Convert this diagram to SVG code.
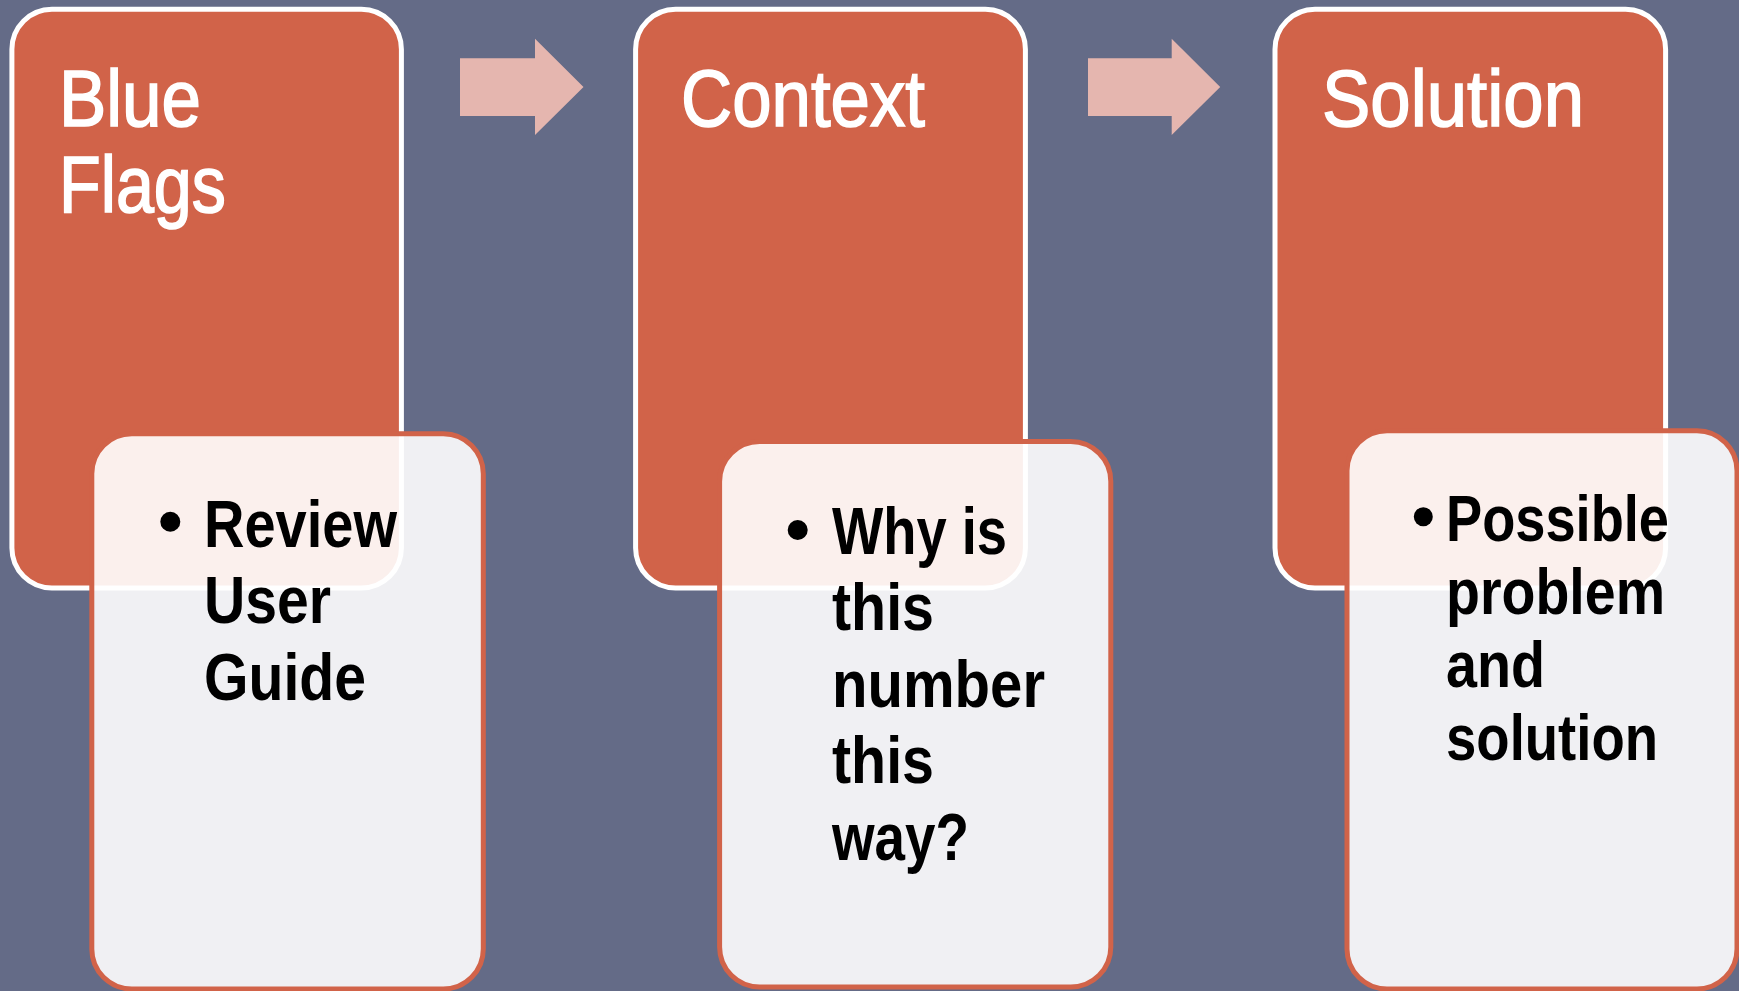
<svg xmlns="http://www.w3.org/2000/svg" width="1739" height="991" viewBox="0 0 1739 991">
  <style>
    .parent { fill: #D16349; stroke: #FFFFFF; stroke-width: 5; }
    .child { fill: #FFFFFF; fill-opacity: 0.9; stroke: #D16349; stroke-width: 5; }
    .arrow { fill: #E5B6AF; }
    .title { font-family: "Liberation Sans", Arial, sans-serif; font-size: 80px; fill: #FFFFFF; stroke: #FFFFFF; stroke-width: 1.6px; }
    .body { font-family: "Liberation Sans", Arial, sans-serif; font-size: 67px; font-weight: bold; fill: #000000; }
    .body2 { font-family: "Liberation Sans", Arial, sans-serif; font-size: 64px; font-weight: bold; fill: #000000; }
    .bullet { fill: #000000; }
  </style>
  <rect x="0" y="0" width="1739" height="991" fill="#646B87"/>

  <g id="connectors">
    <polygon class="arrow" points="460,58.2 535,58.2 535,38.7 583.5,86.9 535,135.1 535,116 460,116"/>
    <polygon class="arrow" points="1088,58.2 1171.7,58.2 1171.7,38.7 1220.2,86.9 1171.7,135.1 1171.7,116 1088,116"/>
  </g>

  <g id="node-blue-flags">
    <rect class="parent" x="11.9" y="9.2" width="389.5" height="578.8" rx="40" ry="40"/>
    <text class="title" x="59" y="125.5" textLength="142" lengthAdjust="spacingAndGlyphs">Blue</text>
    <text class="title" x="59" y="212.4" textLength="167" lengthAdjust="spacingAndGlyphs">Flags</text>
  </g>
  <g id="node-context">
    <rect class="parent" x="635.6" y="9.2" width="389.8" height="578.8" rx="40" ry="40"/>
    <text class="title" x="681" y="125.5" textLength="244" lengthAdjust="spacingAndGlyphs">Context</text>
  </g>
  <g id="node-solution">
    <rect class="parent" x="1275" y="9.2" width="390.6" height="578.8" rx="40" ry="40"/>
    <text class="title" x="1322" y="125.5" textLength="262" lengthAdjust="spacingAndGlyphs">Solution</text>
  </g>

  <g id="node-review">
    <rect class="child" x="91.8" y="433.8" width="391.5" height="555.2" rx="40" ry="40"/>
    <circle class="bullet" cx="170.3" cy="521.7" r="10"/>
    <text class="body" x="204" y="546.7" textLength="193" lengthAdjust="spacingAndGlyphs">Review</text>
    <text class="body" x="204" y="623.3" textLength="127" lengthAdjust="spacingAndGlyphs">User</text>
    <text class="body" x="204" y="700" textLength="162" lengthAdjust="spacingAndGlyphs">Guide</text>
  </g>
  <g id="node-why">
    <rect class="child" x="719.6" y="441.4" width="391.2" height="545.6" rx="40" ry="40"/>
    <circle class="bullet" cx="797.7" cy="530" r="10"/>
    <text class="body" x="832" y="554" textLength="175" lengthAdjust="spacingAndGlyphs">Why is</text>
    <text class="body" x="832" y="630" textLength="102" lengthAdjust="spacingAndGlyphs">this</text>
    <text class="body" x="832" y="706.7" textLength="213" lengthAdjust="spacingAndGlyphs">number</text>
    <text class="body" x="832" y="783.3" textLength="102" lengthAdjust="spacingAndGlyphs">this</text>
    <text class="body" x="832" y="860" textLength="137" lengthAdjust="spacingAndGlyphs">way?</text>
  </g>
  <g id="node-possible">
    <rect class="child" x="1347" y="430.8" width="390" height="558.2" rx="40" ry="40"/>
    <circle class="bullet" cx="1423.3" cy="516.7" r="9.5"/>
    <text class="body2" x="1446" y="540.7" textLength="223" lengthAdjust="spacingAndGlyphs">Possible</text>
    <text class="body2" x="1446" y="614" textLength="219" lengthAdjust="spacingAndGlyphs">problem</text>
    <text class="body2" x="1446" y="686.7" textLength="99" lengthAdjust="spacingAndGlyphs">and</text>
    <text class="body2" x="1446" y="760" textLength="212" lengthAdjust="spacingAndGlyphs">solution</text>
  </g>
</svg>
